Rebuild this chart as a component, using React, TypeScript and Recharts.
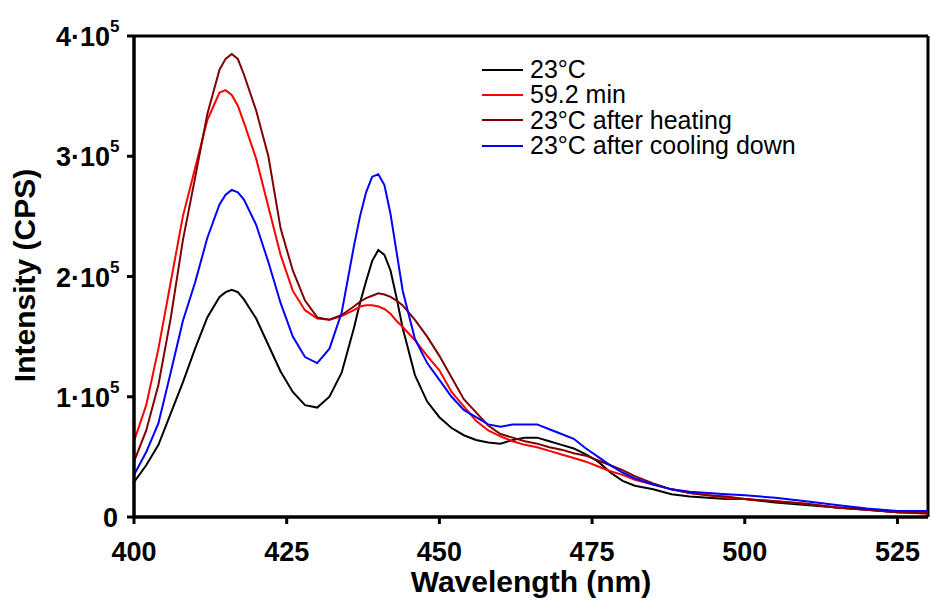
import React from 'react';
import {
  LineChart,
  Line,
  XAxis,
  YAxis,
  Legend,
  ReferenceLine
} from 'recharts';

const FONT = '"Liberation Sans", Arial, sans-serif';

// wavelength (nm)
const wavelengths = [
  400, 402, 404, 406, 408, 410, 412, 414, 415, 416, 417, 418, 420, 422, 424, 426, 428, 430,
  432, 434, 436, 437, 438, 439, 440, 441, 442, 443, 444, 446, 448, 450, 452, 454, 456, 458,
  460, 462, 464, 466, 468, 470, 472, 474, 476, 478, 480, 482, 485, 488, 491, 494, 497, 500,
  505, 510, 515, 520, 525, 530
];

// intensity (CPS)
const start23 = [
  29000, 43000, 60000, 86000, 112000, 140000, 166000, 183000, 187000, 189000, 187000, 181000,
  165000, 143000, 121000, 104000, 93000, 91000, 100000, 120000, 157000, 178000, 196000, 213000,
  222000, 218000, 205000, 182000, 157000, 118000, 96000, 83000, 74000, 68000, 64000, 62000,
  61000, 64000, 66000, 66000, 63000, 60000, 57000, 52000, 46000, 37000, 30000, 26000, 23000,
  19000, 17000, 16000, 15000, 15000, 12000, 10000, 8000, 6000, 4000, 4000
];

const min59 = [
  63000, 93000, 140000, 195000, 250000, 290000, 330000, 353000, 355000, 351000, 342000, 328000,
  298000, 258000, 218000, 188000, 172000, 165000, 164000, 167000, 172000, 175000, 176000, 176000,
  175000, 173000, 169000, 163000, 158000, 147000, 134000, 122000, 104000, 92000, 80000, 72000,
  67000, 63000, 60000, 58000, 55000, 52000, 49000, 46000, 42000, 38000, 35000, 31000, 27000,
  23000, 20000, 18000, 16000, 15000, 13000, 11000, 8000, 6000, 4000, 3000
];

const afterHeating = [
  46000, 72000, 110000, 165000, 230000, 282000, 335000, 372000, 381000, 385000, 381000, 368000,
  338000, 300000, 240000, 205000, 180000, 166000, 164000, 168000, 175000, 179000, 182000, 184000,
  186000, 185000, 183000, 180000, 176000, 164000, 150000, 134000, 116000, 98000, 87000, 76000,
  69000, 66000, 63000, 61000, 58000, 56000, 53000, 51000, 47000, 43000, 39000, 34000, 28000,
  23000, 20000, 18000, 17000, 15000, 13000, 11000, 8000, 6000, 4000, 3000
];

const afterCooling = [
  35000, 54000, 78000, 120000, 163000, 195000, 232000, 260000, 268000, 272000, 270000, 264000,
  243000, 212000, 178000, 150000, 133000, 128000, 140000, 170000, 225000, 250000, 270000, 283000,
  285000, 276000, 252000, 220000, 188000, 148000, 128000, 114000, 100000, 89000, 83000, 77000,
  75000, 77000, 77000, 77000, 73000, 69000, 65000, 57000, 50000, 43000, 37000, 32000, 27000,
  23000, 21000, 20000, 19000, 18000, 16000, 13000, 10000, 7000, 5000, 5000
];

const xTicks = [400, 425, 450, 475, 500, 525];
const yTicks = [0, 100000, 200000, 300000, 400000];

const series = [
  { key: 'start23', name: '23°C', color: '#000000' },
  { key: 'min59', name: '59.2 min', color: '#ff0000' },
  { key: 'afterHeating', name: '23°C after heating', color: '#800000' },
  { key: 'afterCooling', name: '23°C after cooling down', color: '#0000ff' }
];

const data = wavelengths.map((w, i) => ({
  w,
  start23: start23[i],
  min59: min59[i],
  afterHeating: afterHeating[i],
  afterCooling: afterCooling[i]
}));

const XTick = (props: any) => {
  const { x, y, payload } = props;
  return (
    <text x={x} y={y + 35} textAnchor="middle" fontFamily={FONT} fontWeight="bold" fontSize={27} fill="#000">
      {payload.value}
    </text>
  );
};

const YTick = (props: any) => {
  const { x, y, payload } = props;
  const v = payload.value as number;
  if (v === 0) {
    return (
      <text x={x - 7} y={y + 10} textAnchor="end" fontFamily={FONT} fontWeight="bold" fontSize={27} fill="#000">
        0
      </text>
    );
  }
  const mant = Math.round(v / 100000);
  return (
    <g>
      <text x={x - 15} y={y + 10} textAnchor="end" fontFamily={FONT} fontWeight="bold" fontSize={27} fill="#000">
        {mant}·10
      </text>
      <text x={x - 15} y={y - 4} textAnchor="start" fontFamily={FONT} fontWeight="bold" fontSize={17} fill="#000">
        5
      </text>
    </g>
  );
};

const XTitle = (props: any) => {
  const vb = props.viewBox || {};
  return (
    <text x={vb.x + vb.width / 2} y={vb.y + 75} textAnchor="middle" fontFamily={FONT} fontWeight="bold" fontSize={30} fill="#000">
      Wavelength (nm)
    </text>
  );
};

const YTitle = (props: any) => {
  const vb = props.viewBox || {};
  const cx = 35;
  const cy = vb.y + vb.height / 2 - 1;
  return (
    <text x={cx} y={cy} transform={`rotate(-90, ${cx}, ${cy})`} textAnchor="middle" fontFamily={FONT} fontWeight="bold" fontSize={30} fill="#000">
      Intensity (CPS)
    </text>
  );
};

const LegendBox = () => (
  <div style={{ fontFamily: FONT, fontSize: 25, color: '#000' }}>
    {series.map((s) => (
      <div key={s.key} style={{ display: 'flex', alignItems: 'center', height: 25.3 }}>
        <div style={{ width: 41, height: 2, background: s.color, marginRight: 7 }} />
        <span style={{ lineHeight: '25px' }}>{s.name}</span>
      </div>
    ))}
  </div>
);

export default function App() {
  return (
    <div style={{ position: 'absolute', left: 0, top: 0, background: '#fff' }}>
      <LineChart
        width={930}
        height={600}
        data={data}
        margin={{ top: 36, right: 2, left: 34, bottom: 0 }}
      >
        <XAxis
          dataKey="w"
          type="number"
          domain={[400, 530]}
          ticks={xTicks}
          interval={0}
          height={83}
          tickSize={7}
          tickMargin={2}
          axisLine={{ stroke: '#000', strokeWidth: 3.5 }}
          tickLine={{ stroke: '#000', strokeWidth: 3 }}
          tick={<XTick />}
          label={<XTitle />}
        />
        <YAxis
          type="number"
          domain={[0, 400000]}
          ticks={yTicks}
          interval={0}
          width={100}
          tickSize={7}
          tickMargin={2}
          axisLine={{ stroke: '#000', strokeWidth: 3.5 }}
          tickLine={{ stroke: '#000', strokeWidth: 3 }}
          tick={<YTick />}
          label={<YTitle />}
        />
        <ReferenceLine y={400000} stroke="#000" strokeWidth={3} />
        <ReferenceLine x={530} stroke="#000" strokeWidth={3} />
        <Legend
          layout="vertical"
          align="center"
          verticalAlign="middle"
          content={<LegendBox />}
          wrapperStyle={{ left: 482, top: 57, width: 'auto', height: 'auto' }}
        />
        {series.map((s) => (
          <Line
            key={s.key}
            type="linear"
            dataKey={s.key}
            name={s.name}
            stroke={s.color}
            strokeWidth={2}
            dot={false}
            activeDot={false}
            isAnimationActive={false}
          />
        ))}
      </LineChart>
    </div>
  );
}
